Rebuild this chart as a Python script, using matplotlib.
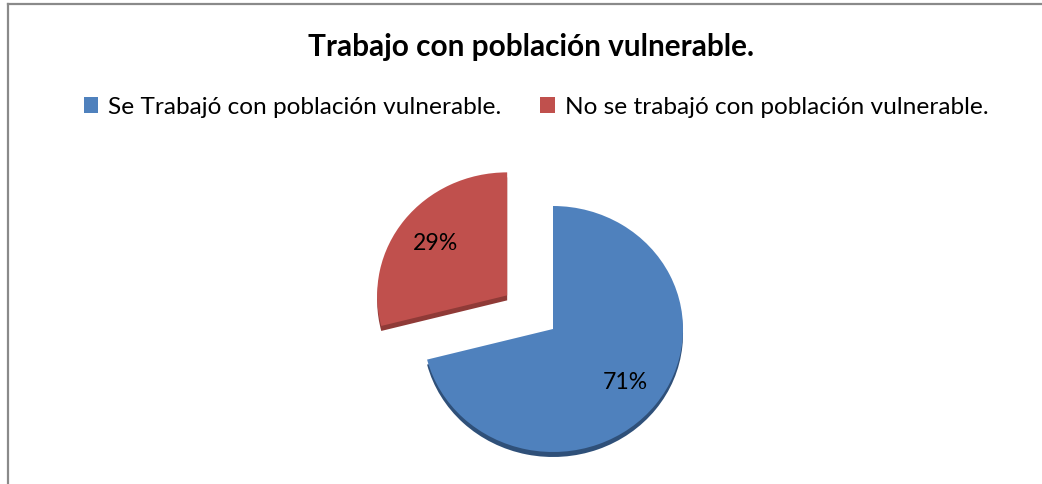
import matplotlib
matplotlib.use("Agg")
import matplotlib.pyplot as plt
from matplotlib.lines import Line2D

title = "Trabajo con población vulnerable."
labels = ["Se Trabajó con población vulnerable.", "No se trabajó con población vulnerable."]
values = [71, 29]
colors = ["#4F81BD", "#C0504D"]
side_colors = ["#2F5079", "#8F3A37"]

FONT = "Lato"
W, H = 1042, 485
fig = plt.figure(figsize=(W / 100, H / 100), dpi=100)
fig.patch.set_facecolor("white")

# pie geometry (pixels)
cx, cy = 553, 330
rx, ry = 130, 123
depth = 5
sy = rx / ry
ax = fig.add_axes([0, 0, 1, 1])
explode = [0, 58]

ax.pie(values, colors=side_colors, startangle=90, counterclock=False,
       explode=explode, radius=rx, center=(cx, (H - cy - depth) * sy),
       wedgeprops=dict(linewidth=0))
wedges, texts, autotexts = ax.pie(
    values, colors=colors, startangle=90, counterclock=False,
    explode=explode, radius=rx, center=(cx, (H - cy) * sy),
    autopct='%1.0f%%', pctdistance=0.7, wedgeprops=dict(linewidth=0),
    textprops=dict(family=FONT, fontsize=17, color="black"))
ax.set_aspect('auto')
ax.set_xlim(0, W)
ax.set_ylim(0, H * sy)
ax.axis('off')

t = fig.text(531.5 / W, 1 - 47 / H, title, ha="center", va="center",
             family=FONT, fontweight="bold", fontsize=16)

def make_legend(fs):
    return fig.legend(wedges, labels, loc="center", bbox_to_anchor=(536 / W, 1 - 108 / H),
                      ncol=2, frameon=False, prop=dict(family=FONT, size=fs),
                      handlelength=0.6, handleheight=0.6, handletextpad=0.4,
                      columnspacing=1.6, borderpad=0)

leg = make_legend(14)

fig.canvas.draw()
r = fig.canvas.get_renderer()
t.set_fontsize(t.get_fontsize() * 447 / t.get_window_extent(r).width)
for a in autotexts:
    a.set_fontsize(a.get_fontsize() * 45 / a.get_window_extent(r).width)
lw0 = leg.get_texts()[0].get_window_extent(r).width
leg.remove()
leg = make_legend(14 * 396 / lw0)

# chart border (top and left)
grey = "#8A8A8A"
fig.add_artist(Line2D([8 / W, 1], [1 - 5 / H, 1 - 5 / H], color=grey, lw=1.6,
                      transform=fig.transFigure))
fig.add_artist(Line2D([8 / W, 8 / W], [0, 1 - 5 / H], color=grey, lw=1.6,
                      transform=fig.transFigure))

fig.savefig("out.png", dpi=100, facecolor="white")
